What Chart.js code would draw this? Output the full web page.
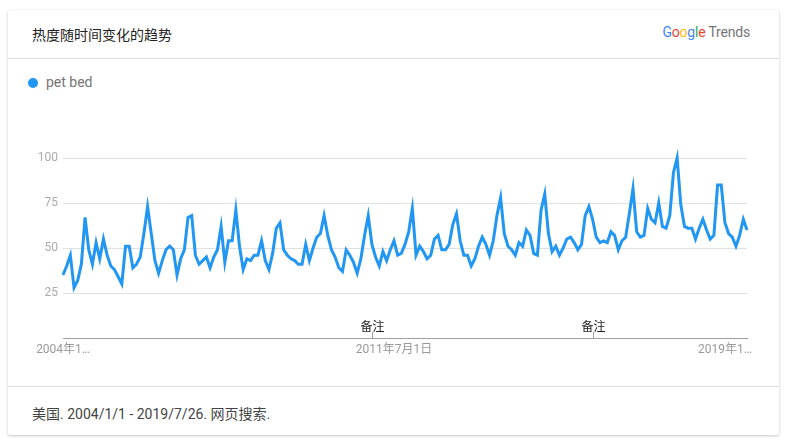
<!DOCTYPE html>
<html>
<head>
<meta charset="utf-8">
<script src="https://cdn.jsdelivr.net/npm/chart.js@4.4.0/dist/chart.umd.min.js"></script>
<style>
  html, body { margin:0; padding:0; background:#fff; width:790px; height:446px; overflow:hidden; }
  body { font-family: Roboto, "Noto Sans CJK SC", sans-serif; position:relative; }
  .card { position:absolute; left:8px; top:10px; width:771px; height:425px; background:#fff;
          box-shadow:0 1px 3px rgba(0,0,0,0.22), 0 0 1px rgba(0,0,0,0.08); border-radius:2px; }
  .head { position:absolute; left:0; top:0; width:100%; height:48px; border-bottom:1px solid #e0e0e0; }
  .title { position:absolute; left:24px; top:14px; font-size:14px; color:#222; }
  .logo { position:absolute; right:29px; top:14px; font-size:14px; letter-spacing:-0.2px; }
  .logo .t { color:#757575; margin-left:3px; }
  .legend { position:absolute; left:20px; top:64px; font-size:14px; color:#757575; }
  .legend .dot { display:inline-block; width:10px; height:10px; border-radius:50%; background:#2196f3;
                 margin-right:8px; vertical-align:-1px; }
  .foot { position:absolute; left:0; top:376px; width:100%; border-top:1px solid #e0e0e0; }
  .foot span { position:absolute; left:24px; top:16px; font-size:14px; color:#444; white-space:nowrap; }
  #wrap { position:absolute; left:0; top:0; width:790px; height:446px; }
</style>
</head>
<body>
<div class="card">
  <div class="head">
    <div class="title">热度随时间变化的趋势</div>
    <div class="logo"><span style="color:#4285f4">G</span><span style="color:#ea4335">o</span><span style="color:#fbbc05">o</span><span style="color:#4285f4">g</span><span style="color:#34a853">l</span><span style="color:#ea4335">e</span><span class="t">Trends</span></div>
  </div>
  <div class="legend"><span class="dot"></span>pet bed</div>
  <div class="foot"><span>美国. 2004/1/1 - 2019/7/26. 网页搜索.</span></div>
</div>
<div id="wrap"><canvas id="myChart" width="790" height="446"></canvas></div>
<script>
'use strict';

// monthly interest, Jan 2004 .. Jul 2019
var months = [];
for (var y = 2004; y <= 2019; y++) {
    for (var m = 1; m <= 12; m++) {
        if (y === 2019 && m > 7) break;
        months.push(y + '-' + (m < 10 ? '0' + m : m));
    }
}

var petBed = [
    35, 40, 46, 28, 32, 41, 67, 49, 41, 53, 44, 55,
    46, 40, 38, 34, 30, 51, 51, 39, 41, 45, 58, 73,
    58, 43, 36, 43, 49, 51, 49, 35, 44, 49, 67, 68,
    46, 41, 43, 45, 39, 45, 49, 62, 42, 54, 54, 71,
    51, 38, 44, 43, 46, 46, 54, 43, 38, 47, 61, 64,
    49, 46, 44, 43, 41, 41, 52, 43, 50, 56, 58, 68,
    57, 49, 45, 39, 37, 49, 46, 42, 36, 44, 57, 68,
    52, 45, 40, 48, 43, 49, 54, 46, 47, 52, 59, 72,
    46, 51, 48, 44, 46, 55, 57, 49, 49, 52, 63, 69,
    54, 46, 46, 40, 44, 51, 56, 52, 46, 54, 68, 78,
    58, 51, 49, 46, 53, 51, 60, 57, 47, 46, 71, 80,
    58, 48, 51, 46, 50, 55, 56, 53, 49, 52, 68, 73,
    66, 56, 53, 54, 53, 59, 57, 49, 54, 56, 69, 83,
    59, 56, 57, 72, 66, 64, 75, 62, 61, 68, 92, 100,
    74, 62, 61, 61, 55, 61, 66, 60, 55, 57, 85, 85,
    64, 58, 56, 51, 57, 66, 60
];

// x labels shown by the chart (index -> text)
var xTickIndex = [0, 90, 180];
var xTickText = ['2004年1…', '2011年7月1日', '2019年1…'];

var yTicks = [25, 50, 75, 100];

// notes on the time axis
var noteIndex = [84, 144];
var noteText = '备注';

var fontFam = 'Roboto, "Noto Sans CJK SC", sans-serif';

var notesPlugin = {
    id: 'notes',
    afterDraw: function(chart) {
        var ctx = chart.ctx;
        var xs = chart.scales.x;
        var base = chart.chartArea.bottom;
        ctx.save();
        ctx.strokeStyle = '#9e9e9e';
        ctx.lineWidth = 1;
        ctx.fillStyle = '#222';
        ctx.font = '12px ' + fontFam;
        ctx.textAlign = 'center';
        ctx.textBaseline = 'bottom';
        noteIndex.forEach(function(i) {
            var px = Math.round(xs.getPixelForValue(i)) + 0.5;
            ctx.beginPath();
            ctx.moveTo(px, base);
            ctx.lineTo(px, base - 6);
            ctx.stroke();
            ctx.fillText(noteText, px, base - 4);
        });
        ctx.restore();
    }
};

var ctx = document.getElementById('myChart').getContext('2d');
var chart = new Chart(ctx, {
    type: 'line',
    data: {
        labels: months,
        datasets: [{
            label: 'pet bed',
            data: petBed,
            borderColor: '#2196f3',
            borderWidth: 3,
            pointRadius: 0,
            tension: 0,
            fill: false,
            clip: false
        }]
    },
    options: {
        responsive: false,
        animation: false,
        layout: { padding: { left: 33, right: 43, top: 158, bottom: 78 } },
        plugins: { legend: { display: false }, tooltip: { enabled: false } },
        scales: {
            x: {
                offset: false,
                grid: { display: false, drawTicks: false },
                border: { display: true, color: '#9e9e9e', width: 1 },
                afterFit: function(s) { s.height = 30; },
                ticks: {
                    autoSkip: false,
                    maxRotation: 0,
                    padding: 5,
                    color: '#999',
                    font: { size: 12, family: fontFam },
                    callback: function(v, i) {
                        var k = xTickIndex.indexOf(i);
                        return k >= 0 ? xTickText[k] : '';
                    }
                }
            },
            y: {
                min: 0,
                max: 100,
                afterFit: function(s) { s.width = 30; },
                afterBuildTicks: function(s) {
                    s.ticks = [0].concat(yTicks).map(function(v) { return { value: v }; });
                },
                border: { display: false },
                grid: {
                    drawTicks: false,
                    color: function(c) { return c.tick && c.tick.value === 0 ? 'rgba(0,0,0,0)' : '#e0e0e0'; }
                },
                ticks: {
                    padding: 5,
                    color: '#aaa',
                    font: { size: 12, family: fontFam },
                    callback: function(v) { return v === 0 ? '' : v; }
                }
            }
        }
    },
    plugins: [notesPlugin]
});
</script>
</body>
</html>
